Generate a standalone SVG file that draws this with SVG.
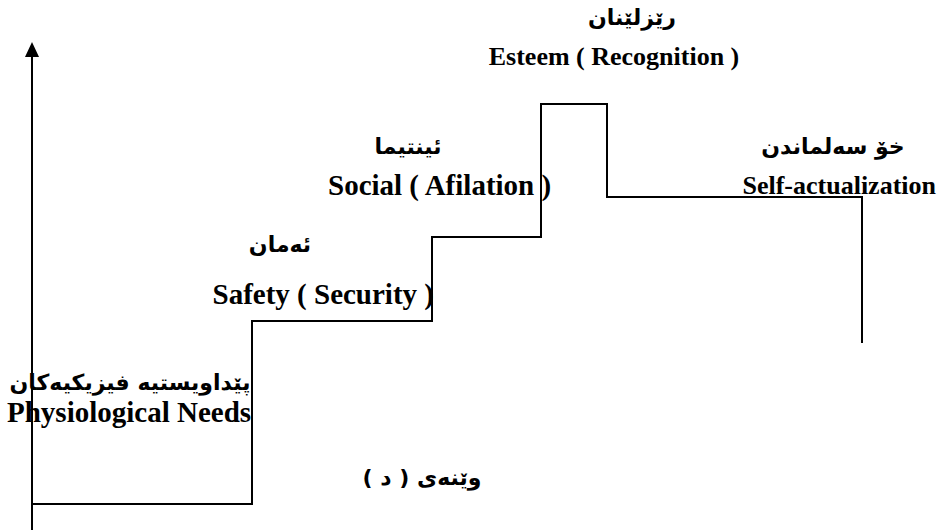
<svg xmlns="http://www.w3.org/2000/svg" width="943" height="530" viewBox="0 0 943 530">
<style>
.ln{fill:none;stroke:#000;stroke-width:2}
.en{font-family:"Liberation Serif","Times New Roman",serif;font-weight:bold;font-size:29px;fill:#000}
.sm{font-size:26px}
.ku{font-family:"DejaVu Sans","Noto Sans",sans-serif;font-weight:bold;font-size:22px;fill:#000;text-anchor:middle}
</style>
<rect width="943" height="530" fill="#fff"/>
<g id="connectors">
<line class="ln" x1="32" y1="530" x2="32" y2="56"/>
<path d="M25,57 L32,42 L39,57 Z" fill="#000"/>
<path class="ln" d="M32,504 H252 V321 H432 V237 H541 V104 H607 V197 H862 V343"/>
</g>
<g id="physiological">
<text class="ku" x="130" y="390" direction="rtl">پێداویستیە فیزیکیەکان</text>
<text class="en" x="7" y="422">Physiological Needs</text>
</g>
<g id="safety">
<text class="ku" x="280" y="252" direction="rtl">ئەمان</text>
<text class="en" x="434" y="304" text-anchor="end">Safety ( Security )</text>
</g>
<g id="social">
<text class="ku" x="408" y="154" direction="rtl">ئینتیما</text>
<text class="en" x="328" y="195">Social ( Afilation )</text>
</g>
<g id="esteem">
<text class="ku" x="632" y="25" direction="rtl">رێزلێنان</text>
<text class="en sm" x="614" y="65" text-anchor="middle">Esteem ( Recognition )</text>
</g>
<g id="selfactualization">
<text class="ku" x="833" y="154" direction="rtl">خۆ سەلماندن</text>
<text class="en sm" x="936" y="194" text-anchor="end">Self-actualization</text>
</g>
<g id="caption">
<text class="ku" x="422" y="485" direction="rtl">وێنەی ( د )</text>
</g>
</svg>
